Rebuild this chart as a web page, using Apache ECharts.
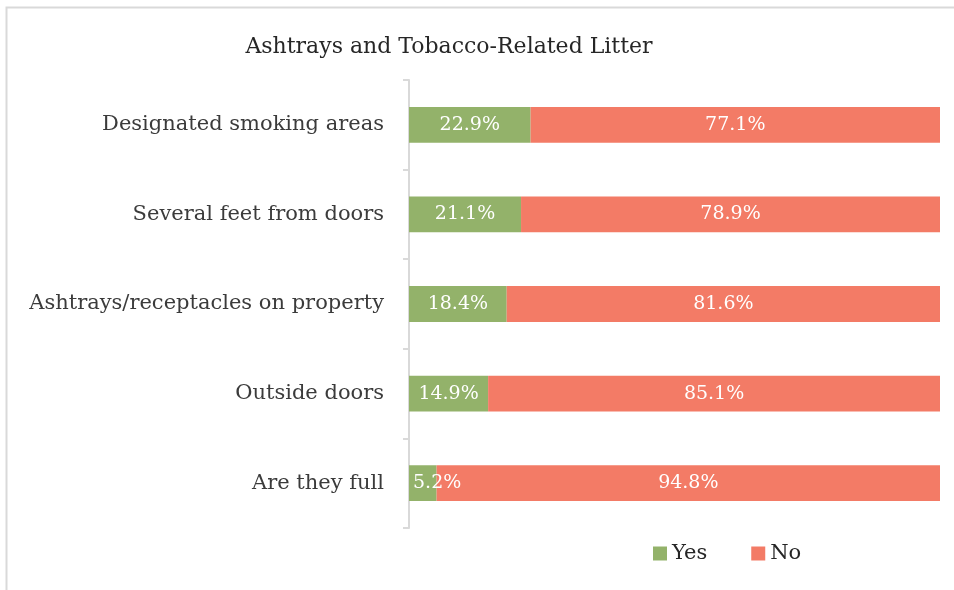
<!DOCTYPE html>
<html>
<head>
<meta charset="utf-8">
<script src="https://cdn.jsdelivr.net/npm/echarts@6/dist/echarts.min.js"></script>
<style>
  html, body { margin: 0; padding: 0; background: #fff; }
  #chart { width: 954px; height: 590px; }
</style>
</head>
<body>
<div id="chart"></div>
<script>
// categories, top to bottom
const categories = [
  'Designated smoking areas',
  'Several feet from doors',
  'Ashtrays/receptacles on property',
  'Outside doors',
  'Are they full'
];
const yesValues = [22.9, 21.1, 18.4, 14.9, 5.2];
const noValues = [77.1, 78.9, 81.6, 85.1, 94.8];
const seriesNames = ['Yes', 'No'];

const FONT = 'DejaVu Serif';
const chart = echarts.init(document.getElementById('chart'));

const labelStyle = {
  show: true,
  position: 'inside',
  color: '#fff',
  fontFamily: FONT,
  fontSize: 19,
  formatter: p => p.value.toFixed(1) + '%'
};

// small segments get their label pinned to the left of the bar, as in the original
const yesData = yesValues.map(v => v < 10
  ? { value: v, label: { position: 'insideLeft', distance: 4 } }
  : v);

const option = {
  animation: false,
  backgroundColor: '#fff',
  graphic: [{
    type: 'rect',
    left: 4, top: 5,
    shape: { width: 960, height: 590 },
    style: { fill: 'none', stroke: '#d9d9d9', lineWidth: 2 },
    silent: true
  }],
  title: {
    text: 'Ashtrays and Tobacco-Related Litter',
    left: 444, top: 31,
    textAlign: 'center',
    textStyle: { fontFamily: FONT, fontSize: 22, fontWeight: 'normal', color: '#262626' }
  },
  legend: {
    data: seriesNames,
    left: 648, top: 538,
    itemWidth: 14, itemHeight: 14, itemGap: 44,
    icon: 'rect',
    textStyle: { fontFamily: FONT, fontSize: 21, color: '#262626' }
  },
  grid: { left: 409, right: 14, top: 80, bottom: 62, containLabel: false },
  xAxis: {
    type: 'value', min: 0, max: 100, show: false
  },
  yAxis: {
    type: 'category',
    data: categories,
    inverse: true,
    axisLine: { show: true, lineStyle: { color: '#d9d9d9', width: 2 } },
    axisTick: { show: true, length: 6, lineStyle: { color: '#d9d9d9', width: 2 } },
    axisLabel: { fontFamily: FONT, fontSize: 21, color: '#3b3b3b', margin: 25 }
  },
  series: [
    {
      name: seriesNames[0], type: 'bar', stack: 'total',
      data: yesData, barWidth: '40%',
      itemStyle: { color: '#93b26a' },
      label: labelStyle
    },
    {
      name: seriesNames[1], type: 'bar', stack: 'total',
      data: noValues, barWidth: '40%',
      itemStyle: { color: '#f37b66' },
      label: labelStyle
    }
  ]
};
chart.setOption(option);
</script>
</body>
</html>
